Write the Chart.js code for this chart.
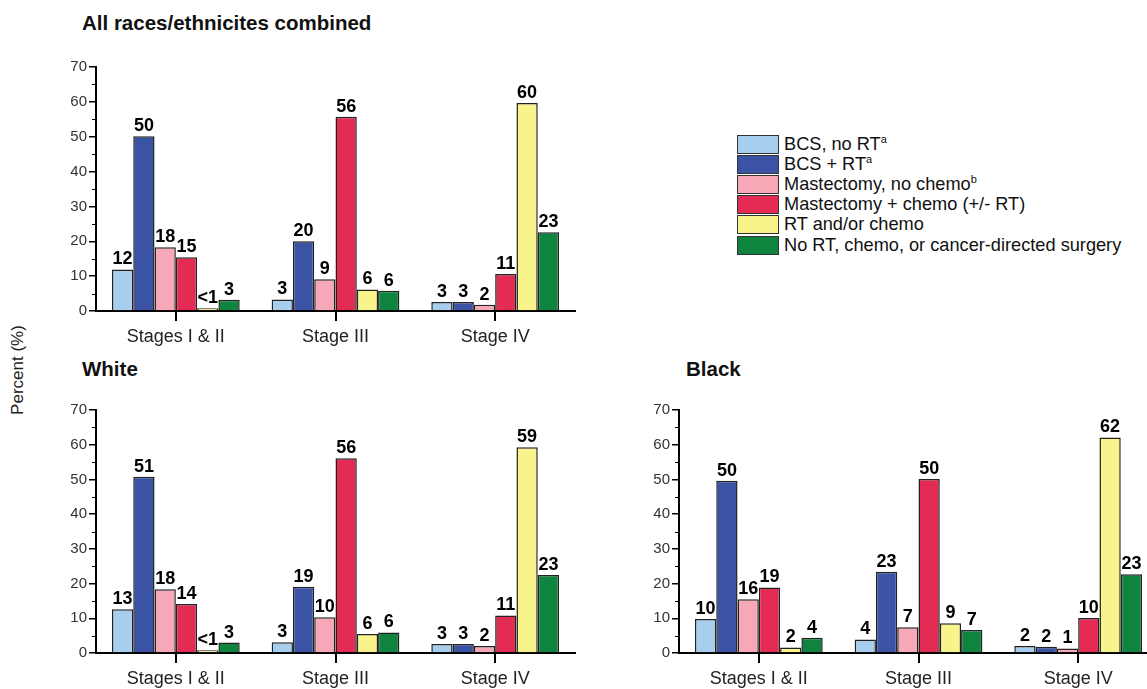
<!DOCTYPE html>
<html>
<head>
<meta charset="utf-8">
<script src="https://cdn.jsdelivr.net/npm/chart.js@4.4.0/dist/chart.umd.min.js"></script>
<style>
  body { margin: 0; width: 1147px; height: 689px; overflow: hidden; background: #fff; position: relative;
         font-family: "Liberation Sans", Arial, sans-serif; color: #111; }
  canvas { position: absolute; }
  .titulo { position: absolute; font-weight: bold; font-size: 20.5px; }
  .eixo-y { position: absolute; left: 18px; top: 370px; font-size: 17px; color: #222;
            transform: translate(-50%, -50%) rotate(-90deg); white-space: nowrap; }
  #legenda { position: absolute; left: 737px; top: 134px; }
  .item { height: 20.2px; display: flex; align-items: center; font-size: 18.2px; white-space: nowrap; }
  .caixa { width: 40px; height: 17px; border: 1px solid #333; margin-right: 5px; }
  sup { font-size: 11px; }
</style>
</head>
<body>

<div class="titulo" style="left:82px; top:11px">All races/ethnicites combined</div>
<div class="titulo" style="left:82px; top:357px">White</div>
<div class="titulo" style="left:686px; top:357px">Black</div>
<div class="eixo-y">Percent (%)</div>
<div id="legenda"></div>

<canvas id="chartTodos" width="600" height="320" style="left:0; top:40px"></canvas>
<canvas id="chartBranca" width="600" height="306" style="left:0; top:383px"></canvas>
<canvas id="chartNegra" width="600" height="306" style="left:583px; top:383px"></canvas>

<script>
// categorias do eixo X
const estagios = ['Stages I & II', 'Stage III', 'Stage IV']

// nomes das séries (html da legenda) e cores
const tratamentos = ['BCS, no RT<sup>a</sup>', 'BCS + RT<sup>a</sup>', 'Mastectomy, no chemo<sup>b</sup>',
  'Mastectomy + chemo (+/- RT)', 'RT and/or chemo', 'No RT, chemo, or cancer-directed surgery']
const cores = ['#A8CEEE', '#3A53A5', '#F7A8B6', '#E42B53', '#F8F38B', '#0F843E']

// todas as raças/etnias
const todosBcsSemRt = [11.9, 3.3, 2.6]
const todosBcsRt = [50.1, 20.0, 2.6]
const todosMastSemQuimio = [18.3, 9.1, 1.8]
const todosMastQuimio = [15.4, 55.7, 10.6]
const todosRtQuimio = [0.8, 6.2, 59.7]
const todosNada = [3.2, 5.8, 22.6]

// brancas
const brancaBcsSemRt = [12.6, 3.1, 2.6]
const brancaBcsRt = [50.8, 19.1, 2.6]
const brancaMastSemQuimio = [18.4, 10.3, 2.0]
const brancaMastQuimio = [14.1, 56.1, 10.8]
const brancaRtQuimio = [0.8, 5.5, 59.3]
const brancaNada = [3.0, 5.9, 22.5]

// negras
const negraBcsSemRt = [9.8, 3.9, 2.0]
const negraBcsRt = [49.6, 23.4, 1.8]
const negraMastSemQuimio = [15.5, 7.4, 1.3]
const negraMastQuimio = [18.9, 50.1, 10.1]
const negraRtQuimio = [1.6, 8.6, 62.1]
const negraNada = [4.4, 6.6, 22.7]

// ticks menores do eixo Y (sem rótulo)
const ticksMenores = [5, 15, 25, 35, 45, 55, 65]

// montando a legenda em html
let legenda = document.getElementById('legenda')
tratamentos.forEach((nome, i) => {
  let item = document.createElement('div')
  item.className = 'item'
  item.innerHTML = '<div class="caixa" style="background:' + cores[i] + '"></div><span>' + nome + '</span>'
  legenda.appendChild(item)
})

// escreve o valor em cima de cada barra
const rotulosPlugin = {
  id: 'rotulos',
  afterDatasetsDraw(chart) {
    const ctx = chart.ctx
    ctx.save()
    ctx.font = 'bold 18px "Liberation Sans", Arial, sans-serif'
    ctx.fillStyle = '#000'
    ctx.textAlign = 'center'
    ctx.textBaseline = 'bottom'
    chart.data.datasets.forEach((ds, i) => {
      chart.getDatasetMeta(i).data.forEach((barra, j) => {
        let v = ds.data[j]
        let texto = v < 1 ? '<1' : String(Math.round(v))
        ctx.fillText(texto, barra.x, barra.y - 1)
      })
    })
    ctx.restore()
  }
}

// tracinhos menores no eixo Y
const ticksMenoresPlugin = {
  id: 'ticksMenores',
  afterDraw(chart) {
    const y = chart.scales.y
    const ctx = chart.ctx
    ctx.save()
    ctx.strokeStyle = '#000'
    ctx.lineWidth = 1
    ticksMenores.forEach(v => {
      let py = Math.round(y.getPixelForValue(v)) + 0.5
      ctx.beginPath()
      ctx.moveTo(y.right - 4, py)
      ctx.lineTo(y.right, py)
      ctx.stroke()
    })
    ctx.restore()
  }
}

function graficoBarras(id, series, alturaX) {
  return new Chart(id, {
    type: 'bar',
    data: {
      labels: estagios,
      datasets: series.map((dados, i) => ({
        data: dados,
        backgroundColor: cores[i],
        borderColor: '#222',
        borderWidth: 1.5,
        categoryPercentage: 0.8,
        barPercentage: 1.0
      }))
    },
    options: {
      responsive: false,
      animation: false,
      layout: { padding: { top: 27, right: 25, left: 0, bottom: 0 } },
      plugins: {
        legend: { display: false },
        tooltip: { enabled: false }
      },
      scales: {
        y: {
          min: 0,
          max: 70,
          afterFit: s => { s.width = 96 },
          border: { color: '#000', width: 2 },
          grid: { drawOnChartArea: false, tickLength: 7, color: '#000', lineWidth: 1.5 },
          ticks: { stepSize: 10, padding: 2, color: '#333', font: { size: 15, family: '"Liberation Sans", Arial' } }
        },
        x: {
          afterFit: s => { s.height = alturaX },
          border: { color: '#000', width: 2 },
          grid: { offset: false, drawOnChartArea: false, tickLength: 10, color: '#000', lineWidth: 2 },
          ticks: { padding: 5, color: '#222', font: { size: 18, family: '"Liberation Sans", Arial' } }
        }
      }
    },
    plugins: [rotulosPlugin, ticksMenoresPlugin]
  })
}

graficoBarras('chartTodos', [todosBcsSemRt, todosBcsRt, todosMastSemQuimio, todosMastQuimio, todosRtQuimio, todosNada], 49)
graficoBarras('chartBranca', [brancaBcsSemRt, brancaBcsRt, brancaMastSemQuimio, brancaMastQuimio, brancaRtQuimio, brancaNada], 36)
graficoBarras('chartNegra', [negraBcsSemRt, negraBcsRt, negraMastSemQuimio, negraMastQuimio, negraRtQuimio, negraNada], 36)
</script>
</body>
</html>
